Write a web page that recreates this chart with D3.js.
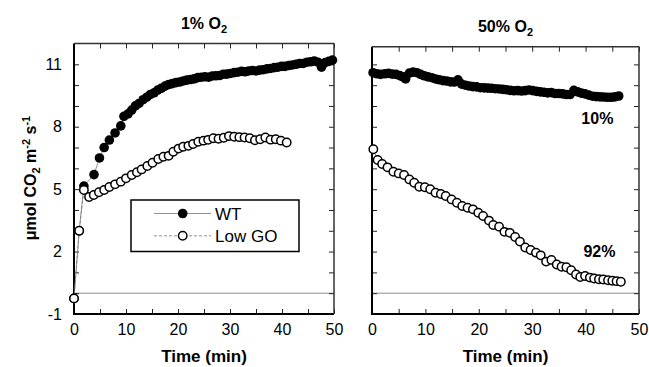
<!DOCTYPE html>
<html>
<head>
<meta charset="utf-8">
<script src="https://cdn.jsdelivr.net/npm/d3@7"></script>
<style>
  body { margin: 0; background: #fff; }
  svg { display: block; font-family: "Liberation Sans", Arial, sans-serif; }
</style>
</head>
<body>
<div id="chart"></div>
<script>
// [time (min), umol CO2 m-2 s-1]
const wtLow = [[0,-0.25],[1,3.0],[1.9,5.15],[3.85,5.7],[4.9,6.5],[5.8,7.0],[6.8,7.36],[7.9,7.7],[9.0,8.04],[9.6,8.5],[10.4,8.62],[11.1,8.8],[11.8,9.0],[12.5,9.12],[13.3,9.3],[14.0,9.42],[14.7,9.55],[15.4,9.63],[16.1,9.76],[16.8,9.85],[17.5,9.95],[18.2,10.03],[18.9,10.07],[19.6,10.12],[20.3,10.15],[21.0,10.2],[21.7,10.24],[22.4,10.27],[23.1,10.3],[23.8,10.36],[24.5,10.38],[25.2,10.4],[25.9,10.38],[26.6,10.44],[27.3,10.45],[28.0,10.46],[28.7,10.52],[29.4,10.53],[30.1,10.56],[30.8,10.6],[31.5,10.62],[32.2,10.66],[32.9,10.64],[33.6,10.68],[34.3,10.7],[35.0,10.68],[35.7,10.72],[36.4,10.74],[37.1,10.78],[37.8,10.8],[38.5,10.84],[39.2,10.86],[39.9,10.9],[40.6,10.9],[41.3,10.94],[42.0,10.97],[42.7,11.0],[43.4,11.04],[44.1,11.04],[44.8,11.1],[45.5,11.12],[46.2,11.16],[46.9,11.1],[47.6,10.86],[48.3,11.08],[49.0,11.14],[49.7,11.2]];
const goLow = [[0,-0.25],[1,3.0],[1.9,4.96],[2.9,4.62],[3.8,4.72],[4.8,4.85],[5.8,4.96],[6.8,5.1],[7.9,5.23],[9.0,5.36],[10,5.52],[11.1,5.68],[12.1,5.81],[13,5.95],[14.1,6.11],[15.1,6.27],[16.2,6.45],[17.2,6.56],[18.2,6.6],[19.1,6.8],[20.1,6.95],[21,7.04],[22,7.08],[22.9,7.17],[23.9,7.28],[24.9,7.33],[25.8,7.37],[26.8,7.45],[27.8,7.42],[28.8,7.47],[29.8,7.55],[30.8,7.52],[31.8,7.5],[32.8,7.48],[33.8,7.45],[34.8,7.35],[35.8,7.4],[36.8,7.48],[37.8,7.38],[38.8,7.4],[39.8,7.33],[40.9,7.24]];
const wtHigh = [[0.2,10.6],[0.9,10.55],[1.6,10.52],[2.4,10.55],[3.1,10.57],[3.8,10.53],[4.5,10.52],[5.2,10.46],[5.8,10.4],[6.3,10.3],[7.0,10.58],[7.7,10.63],[8.4,10.6],[9.1,10.52],[9.8,10.45],[10.5,10.4],[11.2,10.36],[11.9,10.3],[12.6,10.26],[13.3,10.22],[14.0,10.2],[14.7,10.16],[15.4,10.15],[16.1,10.26],[16.8,10.05],[17.5,10.0],[18.2,9.96],[18.9,9.93],[19.6,9.92],[20.3,9.88],[21.0,9.87],[21.7,9.86],[22.4,9.85],[23.1,9.83],[23.8,9.82],[24.5,9.8],[25.2,9.78],[25.9,9.75],[26.6,9.73],[27.3,9.74],[28.0,9.72],[28.7,9.74],[29.4,9.77],[30.1,9.74],[30.8,9.7],[31.5,9.68],[32.2,9.66],[32.9,9.63],[33.6,9.64],[34.3,9.6],[35.0,9.6],[35.7,9.58],[36.4,9.55],[37.1,9.55],[37.8,9.75],[38.5,9.68],[39.2,9.62],[39.9,9.58],[40.6,9.52],[41.3,9.47],[42.0,9.45],[42.7,9.44],[43.4,9.43],[44.1,9.42],[44.8,9.42],[45.5,9.44],[46.2,9.48]];
const goHigh = [[0.25,6.92],[1.06,6.4],[1.9,6.21],[2.9,6.05],[4.0,5.84],[5.0,5.76],[6.0,5.68],[7.0,5.47],[7.9,5.31],[8.85,5.12],[9.9,5.09],[10.9,5.0],[11.9,4.83],[12.9,4.77],[13.8,4.67],[14.9,4.51],[15.9,4.35],[16.9,4.19],[17.9,4.11],[18.9,4.03],[19.9,3.87],[20.8,3.71],[21.9,3.49],[22.7,3.28],[23.8,3.2],[24.8,2.95],[25.8,2.9],[26.8,2.7],[27.7,2.48],[28.7,2.2],[29.7,2.08],[30.7,1.95],[31.6,1.82],[32.6,1.52],[33.6,1.6],[34.6,1.38],[35.5,1.27],[36.4,1.25],[37.3,1.1],[38.2,0.9],[39.0,0.78],[39.9,0.83],[40.8,0.75],[41.6,0.71],[42.5,0.67],[43.3,0.66],[44.2,0.62],[45.0,0.6],[45.8,0.58],[46.6,0.55]];

const xTicks = [0, 5, 10, 15, 20, 25, 30, 35, 40, 45, 50];
const yTicks = [-1, 0, 1, 2, 3, 4, 5, 6, 7, 8, 9, 10, 11];
const yLabelTicks = [-1, 2, 5, 8, 11];
const highNotes = [['10%', 42.2, 8.13], ['92%', 42.6, 1.74]];
const legendItems = ['WT', 'Low GO'];

const W = 649, H = 367;
const svg = d3.select('#chart').append('svg').attr('width', W).attr('height', H);

const panels = [
  { title: '1% O', wt: wtLow, go: goLow, left: 74, right: 334, top: 43.5, yMax: 12, labels: true, notes: [] },
  { title: '50% O', wt: wtHigh, go: goHigh, left: 372, right: 639, top: 46.7, yMax: 11.85, labels: false, notes: highNotes }
];
const bottom = 314;

panels.forEach(p => {
  const x = d3.scaleLinear().domain([0, 50]).range([p.left, p.right]);
  const y = d3.scaleLinear().domain([-1, p.yMax]).range([bottom, p.top]);
  const g = svg.append('g');

  // zero line
  g.append('line')
    .attr('x1', p.left).attr('x2', p.right)
    .attr('y1', y(0)).attr('y2', y(0))
    .attr('stroke', '#8a8a8a').attr('stroke-width', 1);

  // axes on all four sides, ticks inward
  const fmtX = d => d % 10 === 0 ? d : '';
  g.append('g').attr('transform', `translate(0,${bottom})`)
    .call(d3.axisBottom(x).tickValues(xTicks).tickSizeInner(-5).tickSizeOuter(0).tickPadding(10).tickFormat(fmtX));
  g.append('g').attr('transform', `translate(0,${p.top})`)
    .call(d3.axisTop(x).tickValues(xTicks).tickSizeInner(-5).tickSizeOuter(0).tickFormat(''));
  g.append('g').attr('transform', `translate(${p.left},0)`)
    .call(d3.axisLeft(y).tickValues(yTicks).tickSizeInner(-5).tickSizeOuter(0).tickPadding(12)
      .tickFormat(d => p.labels && yLabelTicks.includes(d) ? d : ''));
  g.append('g').attr('transform', `translate(${p.right},0)`)
    .call(d3.axisRight(y).tickValues(yTicks).tickSizeInner(-5).tickSizeOuter(0).tickFormat(''));
  g.selectAll('.domain').remove();
  g.selectAll('.tick line').attr('stroke', '#222');
  g.selectAll('.tick text').attr('font-size', 16).attr('fill', '#000')
    .attr('font-family', '"Liberation Sans", Arial, sans-serif');

  // frame
  g.append('line').attr('x1', p.left).attr('x2', p.left).attr('y1', p.top).attr('y2', bottom + 1).attr('stroke', '#000').attr('stroke-width', 2);
  g.append('line').attr('x1', p.left - 1).attr('x2', p.right).attr('y1', bottom).attr('y2', bottom).attr('stroke', '#000').attr('stroke-width', 2);
  g.append('line').attr('x1', p.left).attr('x2', p.right).attr('y1', p.top).attr('y2', p.top).attr('stroke', '#333').attr('stroke-width', 1.5);
  g.append('line').attr('x1', p.right).attr('x2', p.right).attr('y1', p.top).attr('y2', bottom).attr('stroke', '#333').attr('stroke-width', 1.5);

  // title
  const t = g.append('text').attr('x', (p.left + p.right) / 2).attr('y', p.top - 15)
    .attr('text-anchor', 'middle').attr('font-weight', 'bold').attr('font-size', 16).text(p.title);
  t.append('tspan').attr('font-size', 11).attr('dy', 4).text('2');

  const line = d3.line().x(d => x(d[0])).y(d => y(d[1]));
  g.append('path').datum(p.wt).attr('d', line).attr('fill', 'none').attr('stroke', '#777').attr('stroke-width', 0.8);
  g.append('path').datum(p.go).attr('d', line).attr('fill', 'none').attr('stroke', '#777').attr('stroke-width', 0.8).attr('stroke-dasharray', '3,2');

  g.selectAll('circle.wt').data(p.wt).enter().append('circle')
    .attr('class', 'wt').attr('cx', d => x(d[0])).attr('cy', d => y(d[1])).attr('r', 4.8).attr('fill', '#000');
  g.selectAll('circle.go').data(p.go).enter().append('circle')
    .attr('class', 'go').attr('cx', d => x(d[0])).attr('cy', d => y(d[1])).attr('r', 4.2)
    .attr('fill', '#fff').attr('stroke', '#000').attr('stroke-width', 1.5);

  g.selectAll('text.note').data(p.notes).enter().append('text')
    .attr('class', 'note').attr('x', d => x(d[1])).attr('y', d => y(d[2]))
    .attr('text-anchor', 'middle').attr('font-weight', 'bold').attr('font-size', 16).text(d => d[0]);

  // x axis title
  g.append('text').attr('x', (p.left + p.right) / 2).attr('y', 362)
    .attr('text-anchor', 'middle').attr('font-weight', 'bold').attr('font-size', 17).text('Time (min)');
});

// y axis title
const yl = svg.append('text').attr('transform', 'translate(36,178) rotate(-90)')
  .attr('text-anchor', 'middle').attr('font-weight', 'bold').attr('font-size', 16);
yl.append('tspan').text('\u03bcmol CO');
yl.append('tspan').attr('font-size', 11).attr('dy', 4).text('2');
yl.append('tspan').attr('dy', -4).text(' m');
yl.append('tspan').attr('font-size', 11).attr('dy', -6).text('-2');
yl.append('tspan').attr('dy', 6).text(' s');
yl.append('tspan').attr('font-size', 11).attr('dy', -6).text('-1');

// legend
const lg = svg.append('g');
lg.append('rect').attr('x', 131).attr('y', 200).attr('width', 168).attr('height', 51.5)
  .attr('fill', '#fff').attr('stroke', '#000').attr('stroke-width', 1.5);
legendItems.forEach((name, i) => {
  const cy = 213.5 + i * 22.3;
  lg.append('line').attr('x1', 154).attr('x2', 211).attr('y1', cy).attr('y2', cy)
    .attr('stroke', '#777').attr('stroke-width', 0.8).attr('stroke-dasharray', i ? '3,2' : null);
  lg.append('circle').attr('cx', 182.7).attr('cy', cy).attr('r', i ? 4.2 : 4.8)
    .attr('fill', i ? '#fff' : '#000').attr('stroke', '#000').attr('stroke-width', i ? 1.5 : 0);
  lg.append('text').attr('x', 215).attr('y', cy + 6).attr('font-size', 17).text(name);
});
</script>
</body>
</html>
